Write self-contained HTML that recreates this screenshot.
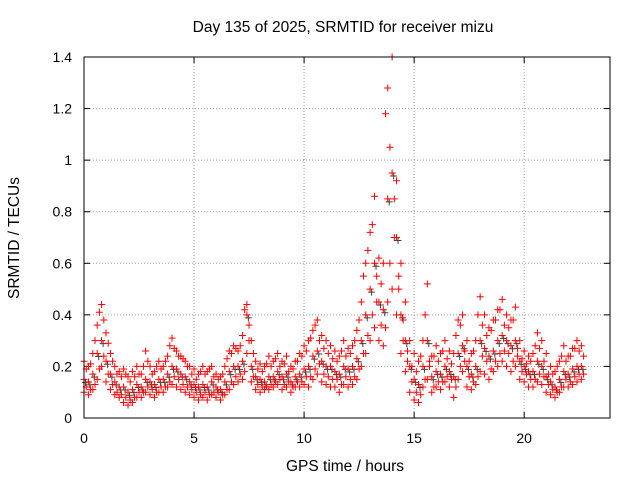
<!DOCTYPE html>
<html><head><meta charset="utf-8"><style>
body{margin:0;background:#fff;}
svg{display:block;font-family:"Liberation Sans",sans-serif;}
</style></head><body>
<svg id="chart" width="640" height="480">
<text x="343" y="32" text-anchor="middle" font-size="15.5">Day 135 of 2025, SRMTID for receiver mizu</text>
<text x="345" y="471" text-anchor="middle" font-size="15.5">GPS time / hours</text>
<text transform="translate(19,238) rotate(-90)" text-anchor="middle" font-size="15.5">SRMTID / TECUs</text>
<g id="grid"></g>
<g id="axes"></g>
<g id="points"></g>
<rect x="84" y="57" width="526" height="361" fill="none" stroke="#000" stroke-width="1"/>
</svg>
<script>
const times = [0,0.2,0.4,0.6,0.8,1.0,1.2,1.4,1.6,1.8,2.0,2.2,2.4,2.6,2.8,3.0,3.2,3.4,3.6,3.8,4.0,4.2,4.4,4.6,4.8,5.0,5.2,5.4,5.6,5.8,6.0,6.2,6.4,6.6,6.8,7.0,7.2,7.4,7.6,7.8,8.0,8.2,8.4,8.6,8.8,9.0,9.2,9.4,9.6,9.8,10.0,10.2,10.4,10.6,10.8,11.0,11.2,11.4,11.6,11.8,12.0,12.2,12.4,12.6,12.8,13.0,13.2,13.4,13.6,13.8,14.0,14.2,14.4,14.6,14.8,15.0,15.2,15.4,15.6,15.8,16.0,16.2,16.4,16.6,16.8,17.0,17.2,17.4,17.6,17.8,18.0,18.2,18.4,18.6,18.8,19.0,19.2,19.4,19.6,19.8,20.0,20.2,20.4,20.6,20.8,21.0,21.2,21.4,21.6,21.8,22.0,22.2,22.4,22.6];
const hiVals = [.22,.2,.25,.36,.44,.33,.25,.2,.18,.19,.16,.18,.2,.17,.26,.2,.18,.22,.2,.24,.31,.26,.24,.22,.2,.19,.17,.2,.18,.2,.17,.16,.2,.26,.28,.26,.32,.44,.3,.22,.21,.2,.24,.22,.25,.22,.24,.2,.22,.25,.28,.3,.34,.38,.32,.3,.28,.26,.24,.3,.27,.28,.34,.45,.6,.72,.86,.62,.6,1.28,1.4,.92,.6,.45,.3,.25,.22,.3,.52,.24,.28,.25,.3,.26,.25,.38,.4,.3,.25,.3,.47,.4,.35,.38,.42,.46,.4,.38,.43,.3,.26,.24,.25,.33,.3,.25,.2,.18,.22,.28,.24,.27,.3,.28];
const midVals = [.15,.14,.17,.25,.3,.22,.17,.14,.12,.12,.1,.11,.13,.12,.15,.14,.13,.15,.15,.17,.2,.19,.17,.16,.14,.13,.12,.13,.12,.14,.12,.11,.14,.18,.2,.2,.22,.4,.2,.16,.15,.14,.16,.16,.18,.16,.17,.14,.16,.17,.19,.2,.24,.26,.22,.2,.2,.18,.17,.2,.19,.2,.23,.3,.4,.5,.6,.45,.42,.85,.95,.7,.4,.3,.2,.15,.13,.2,.3,.16,.18,.17,.2,.18,.16,.25,.28,.2,.17,.2,.3,.27,.24,.26,.3,.32,.3,.28,.3,.22,.2,.18,.18,.22,.2,.16,.14,.12,.15,.18,.17,.19,.2,.2];
const loVals = [.1,.09,.11,.15,.2,.14,.11,.09,.08,.06,.05,.06,.08,.08,.1,.09,.08,.1,.1,.12,.13,.12,.11,.1,.09,.08,.07,.08,.07,.09,.08,.07,.09,.11,.13,.14,.15,.25,.14,.11,.1,.11,.11,.12,.13,.11,.12,.1,.12,.12,.13,.12,.15,.17,.14,.13,.12,.12,.1,.13,.12,.13,.15,.2,.25,.3,.35,.3,.28,.45,.5,.4,.25,.18,.1,.07,.06,.12,.15,.1,.12,.11,.14,.12,.08,.15,.18,.12,.11,.13,.18,.17,.15,.18,.2,.22,.2,.18,.2,.15,.14,.12,.12,.14,.13,.1,.09,.08,.1,.12,.12,.13,.14,.15];
const times2 = [0.1,0.3,0.5,0.7,0.9,1.1,1.3,1.5,1.7,1.9,2.1,2.3,2.5,2.7,2.9,3.1,3.3,3.5,3.7,3.9,4.1,4.3,4.5,4.7,4.9,5.1,5.3,5.5,5.7,5.9,6.1,6.3,6.5,6.7,6.9,7.1,7.3,7.5,7.7,7.9,8.1,8.3,8.5,8.7,8.9,9.1,9.3,9.5,9.7,9.9,10.1,10.3,10.5,10.7,10.9,11.1,11.3,11.5,11.7,11.9,12.1,12.3,12.5,12.7,12.9,13.1,13.3,13.5,13.7,13.9,14.1,14.3,14.5,14.7,14.9,15.1,15.3,15.5,15.7,15.9,16.1,16.3,16.5,16.7,16.9,17.1,17.3,17.5,17.7,17.9,18.1,18.3,18.5,18.7,18.9,19.1,19.3,19.5,19.7,19.9,20.1,20.3,20.5,20.7,20.9,21.1,21.3,21.5,21.7,21.9,22.1,22.3,22.5,22.7];
const upper2Vals = [.19,.21,.3,.41,.38,.29,.22,.17,.16,.17,.14,.16,.17,.2,.22,.17,.2,.19,.22,.28,.27,.24,.23,.2,.17,.15,.18,.17,.19,.16,.15,.17,.23,.25,.27,.28,.42,.36,.25,.19,.18,.21,.2,.23,.2,.21,.18,.19,.22,.24,.26,.31,.36,.3,.27,.25,.23,.22,.26,.24,.25,.3,.38,.55,.65,.75,.55,.52,1.18,1.05,.85,.5,.38,.26,.2,.18,.24,.4,.22,.24,.22,.26,.23,.21,.32,.36,.26,.22,.26,.4,.36,.32,.34,.38,.42,.36,.35,.38,.27,.23,.21,.22,.28,.27,.22,.17,.17,.2,.24,.22,.24,.27,.26,.24];
const lower2Vals = [.12,.11,.13,.19,.24,.17,.13,.1,.09,.08,.07,.08,.1,.1,.12,.11,.1,.12,.12,.14,.16,.15,.13,.12,.11,.1,.09,.1,.09,.1,.1,.09,.11,.14,.16,.17,.18,.3,.16,.13,.12,.12,.13,.14,.15,.13,.14,.12,.14,.14,.16,.16,.19,.21,.17,.16,.15,.15,.13,.16,.15,.16,.19,.25,.32,.4,.45,.36,.35,.6,.7,.55,.3,.22,.14,.1,.09,.15,.2,.12,.14,.14,.16,.15,.12,.2,.22,.16,.14,.16,.24,.22,.19,.22,.25,.26,.25,.22,.24,.18,.17,.15,.15,.17,.16,.13,.11,.1,.12,.15,.14,.16,.17,.17];
const xTicks = [0,5,10,15,20];
const yTicks = [0,0.2,0.4,0.6,0.8,1,1.2,1.4];
const yTickLabels = ["0","0.2","0.4","0.6","0.8","1","1.2","1.4"];

const X0=84,X1=610,Y0=418,Y1=57;
const xs = h => X0 + h*(X1-X0)/23.9;
const ys = v => Y0 - v*(Y0-Y1)/1.4;
const NS="http://www.w3.org/2000/svg";
function mk(tag,parent){const e=document.createElementNS(NS,tag);parent.appendChild(e);return e;}
const grid=document.getElementById('grid'),axes=document.getElementById('axes'),pts=document.getElementById('points');

xTicks.forEach(t=>{
  const x=xs(t);
  if(t>0){const g=mk('line',grid);g.setAttribute('x1',x);g.setAttribute('x2',x);g.setAttribute('y1',Y1);g.setAttribute('y2',Y0);g.setAttribute('stroke','#a0a0a0');g.setAttribute('stroke-dasharray','1,2');
  
  }
  [[Y0,Y0-6],[Y1,Y1+6]].forEach(p=>{const l=mk('line',axes);l.setAttribute('x1',x);l.setAttribute('x2',x);l.setAttribute('y1',p[0]);l.setAttribute('y2',p[1]);l.setAttribute('stroke','#000');
  
  });
  const tx=mk('text',axes);tx.setAttribute('x',x);tx.setAttribute('y',443);tx.setAttribute('text-anchor','middle');tx.setAttribute('font-size','14');tx.textContent=t;
  
  
});
yTicks.forEach((t,i)=>{
  const y=ys(t);
  if(t>0&&t<1.4){const g=mk('line',grid);g.setAttribute('x1',X0);g.setAttribute('x2',X1);g.setAttribute('y1',y);g.setAttribute('y2',y);g.setAttribute('stroke','#a0a0a0');g.setAttribute('stroke-dasharray','1,2');
  
  }
  [[X0,X0+6],[X1,X1-6]].forEach(p=>{const l=mk('line',axes);l.setAttribute('x1',p[0]);l.setAttribute('x2',p[1]);l.setAttribute('y1',y);l.setAttribute('y2',y);l.setAttribute('stroke','#000');
  
  });
  const tx=mk('text',axes);tx.setAttribute('x',72);tx.setAttribute('y',y+5);tx.setAttribute('text-anchor','end');tx.setAttribute('font-size','14');tx.textContent=yTickLabels[i];
  
  
});
function plus(x,y,color){
  const p=mk('path',pts);p.setAttribute('d',`M${x-3.5},${y}h7M${x},${y-3.5}v7`);p.setAttribute('stroke',color);p.setAttribute('stroke-width','1');
  
  
}
times.forEach((t,i)=>{plus(xs(t)+1.5,ys(midVals[i])+3,'#404040');});
[hiVals,midVals,loVals].forEach(arr=>{times.forEach((t,i)=>plus(xs(t),ys(arr[i]),'#ff0000'));});
[upper2Vals,lower2Vals].forEach(arr=>{times2.forEach((t,i)=>plus(xs(t),ys(arr[i]),'#ff0000'));});
</script>
</body></html>
